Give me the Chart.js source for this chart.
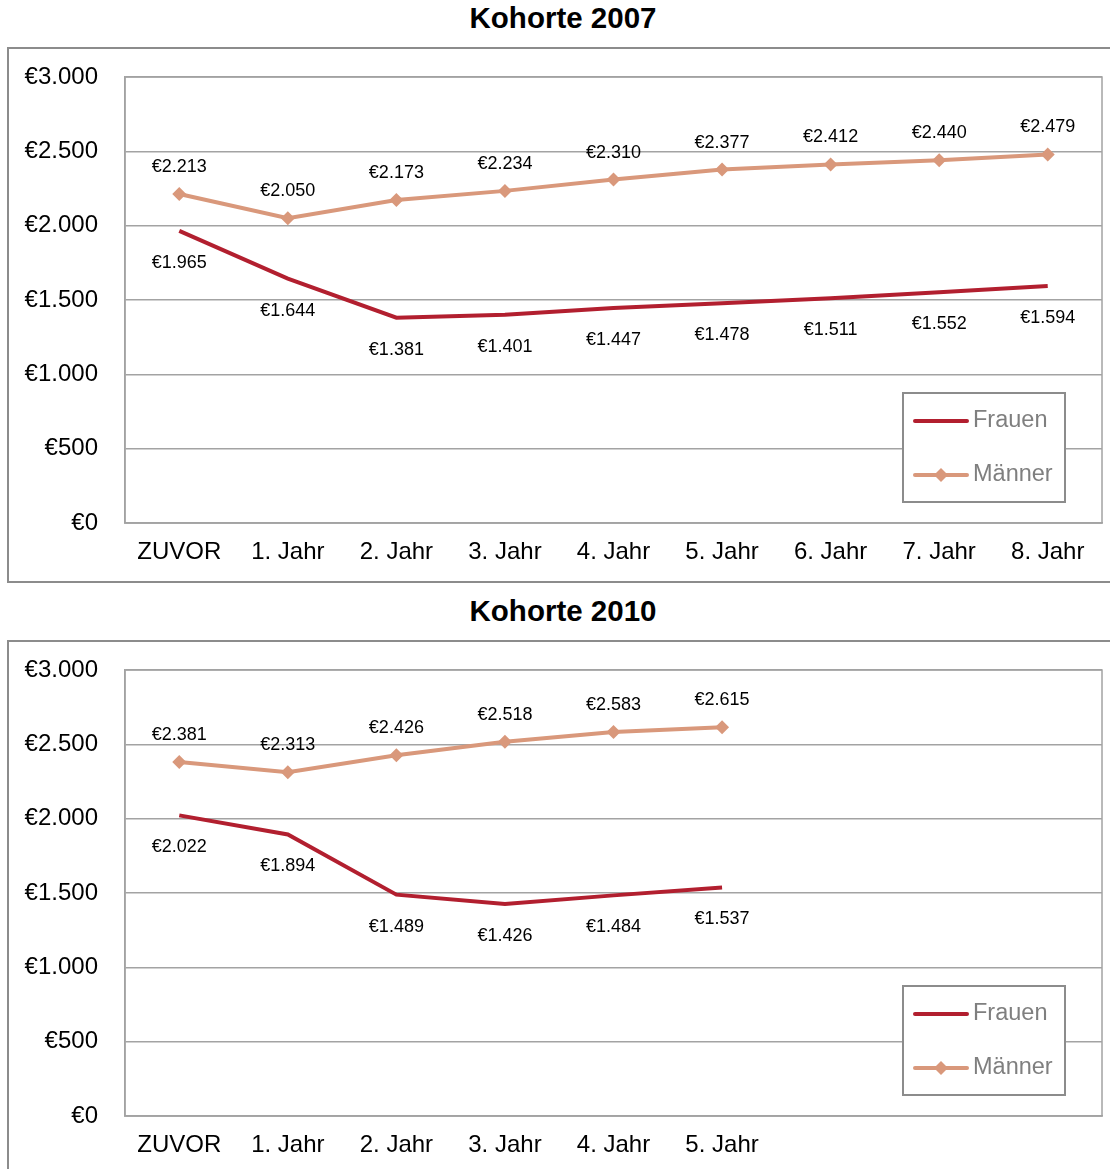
<!DOCTYPE html>
<html lang="de">
<head>
  <meta charset="UTF-8" />
  <title>Kohorte 2007 / 2010</title>
  <style>
    body {
      margin: 0;
      background: #fff;
      font-family: "Liberation Sans", Arial, Helvetica, sans-serif;
      width: 1110px;
      height: 1169px;
      overflow: hidden;
      position: relative;
    }
    .title {
      position: absolute;
      left: 0;
      width: 1126px;
      text-align: center;
      font-weight: bold;
      font-size: 29.5px;
      color: #000;
    }
    .box {
      position: absolute;
      left: 7px;
      width: 1106px;
      height: 536px;
      box-sizing: border-box;
      border: 2px solid #8c8c8c;
    }
    .box canvas { display: block; }
  </style>
  <script src="https://cdn.jsdelivr.net/npm/chart.js"></script>
</head>
<body>
  <div class="title" style="top:1px;">Kohorte 2007</div>
  <div class="box" style="top:47px;"><canvas id="chart2007" width="1102" height="533"></canvas></div>

  <div class="title" style="top:594px;">Kohorte 2010</div>
  <div class="box" style="top:640px;"><canvas id="chart2010" width="1102" height="533"></canvas></div>

  <script>
    // Kategorien
    const labels2007 = ['ZUVOR', '1. Jahr', '2. Jahr', '3. Jahr', '4. Jahr', '5. Jahr', '6. Jahr', '7. Jahr', '8. Jahr'];
    const labels2010 = ['ZUVOR', '1. Jahr', '2. Jahr', '3. Jahr', '4. Jahr', '5. Jahr', '', '', ''];

    // Werte (Euro)
    const frauen2007 = [1965, 1644, 1381, 1401, 1447, 1478, 1511, 1552, 1594];
    const maenner2007 = [2213, 2050, 2173, 2234, 2310, 2377, 2412, 2440, 2479];
    const frauen2010 = [2022, 1894, 1489, 1426, 1484, 1537];
    const maenner2010 = [2381, 2313, 2426, 2518, 2583, 2615];

    const yTicks = [0, 500, 1000, 1500, 2000, 2500, 3000];

    const FONT = '"Liberation Sans", Arial, Helvetica, sans-serif';
    const colFrauen = '#b21f2f';
    const colMaenner = '#d9987b';
    const gridCol = '#a3a3a3';

    function euro(v) {
      return '€' + v.toString().replace(/\B(?=(\d{3})+(?!\d))/g, '.');
    }

    // Rahmen um die Zeichenfläche
    const plotBorder = {
      id: 'plotBorder',
      beforeDatasetsDraw(chart) {
        const a = chart.chartArea;
        const c = chart.ctx;
        c.save();
        c.strokeStyle = gridCol;
        c.lineWidth = 1.5;
        c.strokeRect(a.left, a.top, a.right - a.left, a.bottom - a.top);
        c.restore();
      }
    };

    // Werte an den Punkten
    const valueLabels = {
      id: 'valueLabels',
      afterDatasetsDraw(chart) {
        const c = chart.ctx;
        c.save();
        c.font = '18px ' + FONT;
        c.fillStyle = '#000';
        c.textAlign = 'center';
        c.textBaseline = 'middle';
        chart.data.datasets.forEach((ds, i) => {
          const meta = chart.getDatasetMeta(i);
          const up = ds.label === 'Männer';
          meta.data.forEach((pt, j) => {
            const v = ds.data[j];
            if (v == null) return;
            c.fillText(euro(v), pt.x, up ? pt.y - 27 : pt.y + 32);
          });
        });
        c.restore();
      }
    };

    // Legende innerhalb der Zeichenfläche
    const boxLegend = {
      id: 'boxLegend',
      afterDraw(chart) {
        const a = chart.chartArea;
        const c = chart.ctx;
        const right = a.right - 37, bottom = a.bottom - 21;
        const w = 162, h = 109;
        const x0 = right - w, y0 = bottom - h;
        c.save();
        c.fillStyle = '#fff';
        c.fillRect(x0, y0, w, h);
        c.strokeStyle = '#8c8c8c';
        c.lineWidth = 2;
        c.strokeRect(x0, y0, w, h);
        c.font = '23.5px ' + FONT;
        c.textBaseline = 'middle';
        c.textAlign = 'left';
        const rows = [y0 + 28, y0 + 82];
        chart.data.datasets.forEach((ds, i) => {
          const y = rows[i];
          c.strokeStyle = ds.borderColor;
          c.lineWidth = 4;
          c.lineCap = 'round';
          c.beginPath();
          c.moveTo(x0 + 12, y);
          c.lineTo(x0 + 64, y);
          c.stroke();
          if (ds.pointStyle === 'rectRot') {
            c.fillStyle = ds.borderColor;
            c.beginPath();
            c.moveTo(x0 + 38, y - 7);
            c.lineTo(x0 + 45, y);
            c.lineTo(x0 + 38, y + 7);
            c.lineTo(x0 + 31, y);
            c.closePath();
            c.fill();
          }
          c.fillStyle = '#7f7f7f';
          c.fillText(ds.label, x0 + 70, y);
        });
        c.restore();
      }
    };

    function makeChart(id, labels, frauen, maenner) {
      const ctx = document.getElementById(id).getContext('2d');
      return new Chart(ctx, {
        type: 'line',
        data: {
          labels: labels,
          datasets: [
            {
              label: 'Frauen',
              data: frauen,
              borderColor: colFrauen,
              backgroundColor: colFrauen,
              borderWidth: 4,
              pointRadius: 0,
              tension: 0,
              fill: false
            },
            {
              label: 'Männer',
              data: maenner,
              borderColor: colMaenner,
              backgroundColor: colMaenner,
              borderWidth: 4,
              pointStyle: 'rectRot',
              pointRadius: 7,
              pointBorderWidth: 0,
              tension: 0,
              fill: false
            }
          ]
        },
        options: {
          responsive: false,
          animation: false,
          layout: { padding: { top: 28, right: 9, left: 0, bottom: 0 } },
          plugins: {
            legend: { display: false },
            tooltip: { enabled: false },
            title: { display: false }
          },
          scales: {
            x: {
              type: 'category',
              offset: true,
              grid: { display: false, drawTicks: false },
              border: { display: true, color: gridCol, width: 1.5 },
              ticks: {
                color: '#000',
                font: { family: FONT, size: 24 },
                padding: 15,
                maxRotation: 0,
                autoSkip: false
              },
              afterFit(scale) {
                scale.height = 59;
                scale.paddingLeft = 0;
                scale.paddingRight = 0;
              }
            },
            y: {
              min: 0,
              max: 3000,
              afterBuildTicks(scale) {
                scale.ticks = yTicks.map(v => ({ value: v }));
              },
              grid: { color: gridCol, lineWidth: 1.5, drawTicks: false },
              border: { display: true, color: gridCol, width: 1.5 },
              ticks: {
                color: '#000',
                font: { family: FONT, size: 24 },
                padding: 27,
                callback: v => euro(v)
              },
              afterFit(scale) {
                scale.width = 116;
                scale.paddingTop = 0;
                scale.paddingBottom = 0;
              }
            }
          }
        },
        plugins: [plotBorder, valueLabels, boxLegend]
      });
    }

    makeChart('chart2007', labels2007, frauen2007, maenner2007);
    makeChart('chart2010', labels2010, frauen2010, maenner2010);
  </script>
</body>
</html>
